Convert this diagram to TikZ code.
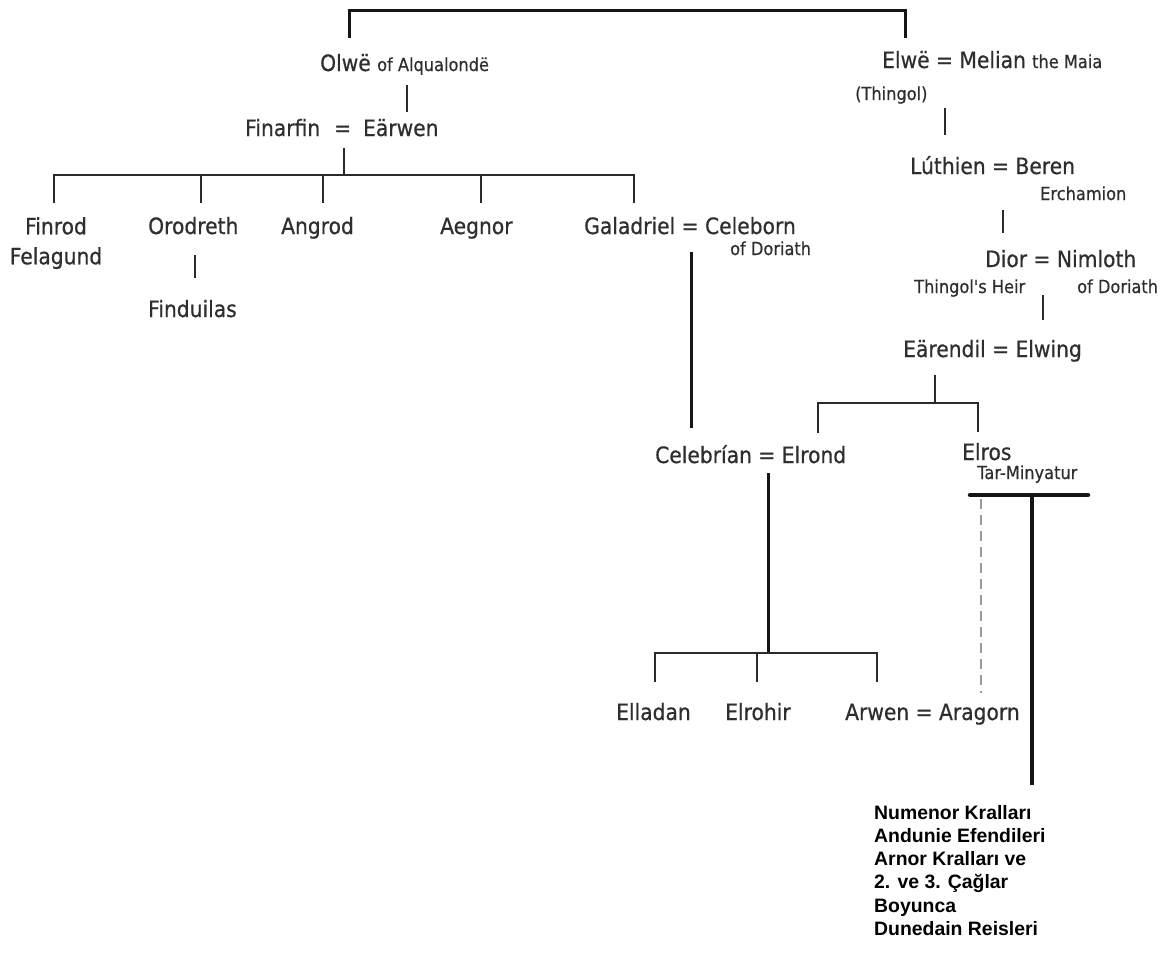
\documentclass[tikz,border=0pt]{standalone}
\usepackage{fontspec}
\newfontfamily\tf[FakeStretch=0.9,FakeBold=0.6]{DejaVu Sans}
\newfontfamily\lsans{Liberation Sans}
\definecolor{txt}{HTML}{2E2E2E}
\definecolor{lnc}{HTML}{2A2A2A}
\definecolor{hvc}{HTML}{151515}
\definecolor{dsh}{HTML}{9A9A9A}
\tikzset{
  big/.style={font={\tf\fontsize{22.5}{30}\selectfont}, text=txt, inner sep=0pt, anchor=base west},
  small/.style={font={\tf\fontsize{18}{22}\selectfont}, text=txt, inner sep=0pt, anchor=base west},
  boldtxt/.style={font={\lsans\bfseries\fontsize{19.4}{23.2}\selectfont}, text=black, inner sep=0pt, anchor=north west, align=left},
  ln/.style={draw=lnc, line width=2.2pt},
  heavy/.style={draw=hvc, line width=3pt},
  heavier/.style={draw=hvc, line width=4.5pt, line cap=round},
  dashline/.style={draw=dsh, line width=1.6pt, dash pattern=on 10pt off 6pt}
}
\begin{document}
\begin{tikzpicture}[x=1pt,y=-1pt]
\useasboundingbox (0,0) rectangle (1168,953);
% ---- text nodes ----
\node[big] (olwe) at (320,71) {Olwë};
\node[small] (alq) at (377,71) {of Alqualondë};
\node[big] (finarfin) at (245,136) {Finarfin\hspace{14pt}=\hspace{12pt}Eärwen};
\node[big, anchor=north, align=center] (finrod) at (56,217) {Finrod\\Felagund};
\node[big] (orodreth) at (148,234) {Orodreth};
\node[big] (finduilas) at (148,317) {Finduilas};
\node[big] (angrod) at (281,234) {Angrod};
\node[big] (aegnor) at (440,234) {Aegnor};
\node[big] (galadriel) at (584,234) {Galadriel = Celeborn};
\node[small] (doriath1) at (730,255) {of Doriath};
\node[big] (celebrian) at (655,463) {Celebrían = Elrond};
\node[big] (elladan) at (616,720) {Elladan};
\node[big] (elrohir) at (725,720) {Elrohir};
\node[big] (arwen) at (845,720) {Arwen = Aragorn};
\node[big] (elwe) at (882,68) {Elwë = Melian};
\node[small] (maia) at (1032,68) {the Maia};
\node[small] (thingol) at (855,100) {(Thingol)};
\node[big] (luthien) at (910,174) {Lúthien = Beren};
\node[small] (erch) at (1040,200) {Erchamion};
\node[big] (dior) at (985,267) {Dior = Nimloth};
\node[small] (heir) at (914,293) {Thingol's Heir};
\node[small] (doriath2) at (1077,293) {of Doriath};
\node[big] (earendil) at (903,357) {Eärendil = Elwing};
\node[big] (elros) at (962,460) {Elros};
\node[small] (tarmin) at (977,479) {Tar-Minyatur};
\node[boldtxt] (kings) at (874,805) {Numenor Kralları\\Andunie Efendileri\\Arnor Kralları ve\\2. ve 3. Çağlar\\Boyunca\\Dunedain Reisleri};
% ---- connector end points ----
\coordinate (olweTop) at (349,38);
\coordinate (elweTop) at (905,38);
\coordinate (olweA) at (407,85);
\coordinate (finB) at (407,112);
\coordinate (finA) at (344,148);
\coordinate (finBar) at (344,175);
\coordinate (barL) at (54,203);
\coordinate (barR) at (634,203);
\coordinate (oroA) at (195,255);
\coordinate (oroB) at (195,278);
\coordinate (galA) at (691,252);
\coordinate (galB) at (691,428);
\coordinate (elweA) at (945,108);
\coordinate (elweB) at (945,135);
\coordinate (luthA) at (1003,210);
\coordinate (luthB) at (1003,233);
\coordinate (diorA) at (1043,295);
\coordinate (diorB) at (1043,320);
\coordinate (earA) at (935,375);
\coordinate (earBar) at (935,403);
\coordinate (elrondTop) at (818,433);
\coordinate (elrosTop) at (978,432);
\coordinate (celA) at (768,473);
\coordinate (celBar) at (768,653);
\coordinate (elladanTop) at (655,682);
\coordinate (elrohirTop) at (757,682);
\coordinate (arwenTop) at (877,682);
\coordinate (elrosL) at (970,495);
\coordinate (elrosR) at (1088,495);
\coordinate (lineA) at (1032,495);
\coordinate (kingsTop) at (1032,785);
\coordinate (dashA) at (981,499);
\coordinate (dashB) at (981,693);
% ---- connectors ----
\draw[heavy] (olweTop) -- ++(0,-28) -| (elweTop);
\draw[ln] (olweA) -- (finB);
\draw[ln] (finA) -- (finBar);
\draw[ln] (barL) -- ++(0,-28) -| (barR);
\foreach \xx in {201,323,481} \draw[ln] (\xx,175) -- (\xx,203);
\draw[ln] (oroA) -- (oroB);
\draw[heavy] (galA) -- (galB);
\draw[ln] (elweA) -- (elweB);
\draw[ln] (luthA) -- (luthB);
\draw[ln] (diorA) -- (diorB);
\draw[ln] (earA) -- (earBar);
\draw[ln] (elrondTop) -- ++(0,-30) -| (elrosTop);
\draw[heavy] (celA) -- (celBar);
\draw[ln] (elladanTop) -- ++(0,-29) -| (arwenTop);
\draw[ln] (elrohirTop) -- ++(0,-29);
\draw[heavier] (elrosL) -- (elrosR);
\draw[draw=hvc, line width=3.5pt] (lineA) -- (kingsTop);
\draw[dashline] (dashA) -- (dashB);
\end{tikzpicture}
\end{document}
